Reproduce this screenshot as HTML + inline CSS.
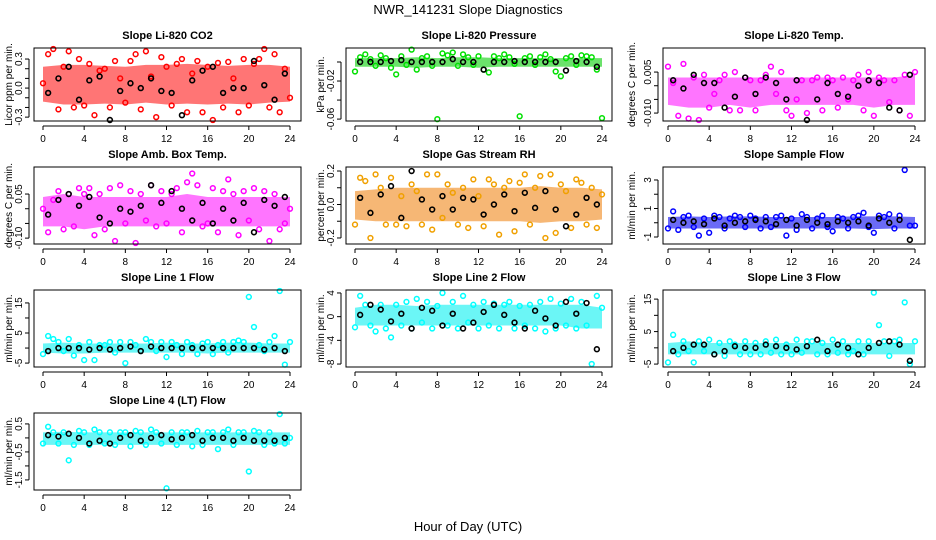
<!DOCTYPE html>
<html><head><meta charset="utf-8"><style>
body{margin:0;background:#fff;}
svg{display:block;font-family:"Liberation Sans",sans-serif;}
</style></head><body>
<svg id="chart" width="936" height="540" viewBox="0 0 936 540">
<rect x="0" y="0" width="936" height="540" fill="#fff"/>
<text x="468" y="14" text-anchor="middle" font-size="13">NWR_141231  Slope Diagnostics</text>
<text x="468" y="531" text-anchor="middle" font-size="13">Hour of Day (UTC)</text>
</svg>
<script>
const hourTicks = [0,4,8,12,16,20,24];
// colored series: values at hours 0..24 step 0.5 ; black series: hours 0.5..23.5 step 1 ; band lo/hi at hours 0..24 step 2
const co2Color = [0.05,0.35,0.42,-0.22,0.22,0.38,-0.2,0.3,-0.18,0.25,-0.28,0.18,0.2,-0.2,0.28,0.1,-0.15,0.28,0.35,-0.22,0.38,0.12,-0.3,0.32,0.22,-0.18,0.25,0.3,-0.25,0.15,0.28,-0.25,0.22,-0.33,0.26,-0.2,0.27,0.1,-0.25,0.3,-0.18,0.25,0.3,0.42,-0.2,0.35,-0.25,0.2,-0.1];
const co2Black = [-0.05,0.1,0.22,-0.12,0.08,0.12,-0.33,-0.03,0.05,0.0,0.1,-0.03,-0.05,-0.28,0.08,0.18,0.22,-0.05,0.0,0.0,0.28,0.03,-0.12,0.15];
const co2Lo = [-0.14,-0.17,-0.17,-0.16,-0.17,-0.15,-0.17,-0.16,-0.17,-0.16,-0.17,-0.15,-0.14];
const co2Hi = [0.22,0.24,0.24,0.23,0.22,0.24,0.24,0.25,0.24,0.23,0.24,0.24,0.22];

const presColor = [-0.01,0.005,0.008,0.003,-0.004,0.007,0.004,-0.006,-0.013,0.006,-0.003,0.013,-0.008,0.004,0.006,-0.004,-0.06,0.009,0.007,0.01,-0.004,0.008,0.005,-0.003,0.006,-0.008,-0.011,0.006,0.004,0.008,0.005,-0.002,-0.057,0.004,0.006,-0.003,0.005,0.008,0.003,-0.01,-0.015,0.004,0.006,-0.003,0.007,0.006,0.005,-0.008,-0.059];
const presBlack = [0,0,0,0.001,0.002,0,0,0,0,0.003,0,0,-0.008,0,0,0.001,0,0,0,0,-0.009,0.001,0,-0.005];
const presLo = [-0.005,-0.005,-0.005,-0.006,-0.005,-0.005,-0.006,-0.005,-0.005,-0.005,-0.005,-0.005,-0.005];
const presHi = [0.004,0.004,0.004,0.005,0.004,0.005,0.005,0.004,0.004,0.004,0.004,0.004,0.004];

const tempColor = [0.007,0.001,-0.011,0.008,-0.012,0.003,-0.014,0.004,-0.008,-0.003,0.002,0.004,-0.009,0.005,-0.009,0.003,0.002,-0.009,0.002,0.004,0.007,-0.003,0.005,-0.009,-0.011,-0.005,0.002,-0.01,0.002,0.003,-0.009,0.003,0.002,-0.008,0.003,-0.005,0.002,0.004,-0.009,0.005,-0.011,0.003,0.002,-0.006,0.002,-0.009,0.004,-0.011,0.005];
const tempBlack = [0.002,-0.001,0.004,0.001,0.001,-0.008,-0.004,0.003,-0.003,0.003,0.001,-0.005,0.002,-0.013,-0.005,0.001,-0.003,-0.004,0.0,0.002,0.001,-0.008,-0.009,0.004];
const tempLo = [-0.007,-0.008,-0.008,-0.007,-0.008,-0.007,-0.007,-0.007,-0.007,-0.007,-0.008,-0.007,-0.007];
const tempHi = [0.003,0.003,0.003,0.003,0.003,0.003,0.003,0.003,0.003,0.003,0.003,0.003,0.004];

const ambColor = [0.0,-0.08,0.03,0.06,-0.07,0.05,-0.06,0.07,0.05,0.07,-0.09,0.05,-0.07,0.07,-0.11,0.08,-0.05,0.06,-0.12,0.05,-0.04,0.08,-0.06,0.06,-0.05,0.05,0.07,-0.08,0.09,0.12,0.08,-0.06,-0.05,0.07,-0.08,0.06,0.1,0.05,-0.09,0.06,-0.04,0.07,-0.07,0.06,-0.11,0.05,-0.07,-0.05,0.0];
const ambBlack = [-0.02,0.03,0.05,0.01,0.04,-0.03,-0.05,0.0,-0.01,0.01,0.08,0.02,0.06,0.0,-0.04,0.02,-0.05,0.0,-0.04,0.02,-0.08,0.03,0.01,0.04];
const ambLo = [-0.06,-0.06,-0.07,-0.06,-0.06,-0.06,-0.06,-0.06,-0.06,-0.06,-0.06,-0.06,-0.06];
const ambHi = [0.04,0.05,0.04,0.04,0.04,0.04,0.04,0.05,0.04,0.04,0.04,0.04,0.04];

const rhColor = [-0.12,0.16,0.14,-0.2,0.18,0.1,-0.12,0.16,-0.12,0.05,-0.13,0.12,0.08,-0.12,0.18,-0.15,0.18,-0.08,0.12,0.07,-0.12,0.1,-0.14,0.15,0.05,-0.13,0.15,0.12,-0.18,0.1,0.14,-0.16,0.13,0.18,-0.12,0.1,0.17,-0.2,0.18,-0.17,0.12,0.08,-0.14,0.15,0.13,-0.12,0.1,-0.14,0.06];
const rhBlack = [0.04,-0.05,0.06,0.11,-0.08,0.2,0.03,-0.03,0.05,-0.03,0.04,0.03,-0.06,0.0,0.06,-0.04,0.07,-0.02,0.08,-0.03,-0.13,-0.06,0.04,0.0];
const rhLo = [-0.09,-0.1,-0.1,-0.1,-0.1,-0.1,-0.1,-0.1,-0.1,-0.11,-0.1,-0.1,-0.09];
const rhHi = [0.08,0.09,0.1,0.1,0.1,0.1,0.1,0.1,0.1,0.11,0.1,0.1,0.09];

const sampColor = [-0.4,0.8,-0.5,0.4,0.5,-0.3,-0.9,0.3,-0.7,0.5,0.4,-0.4,0.3,0.5,0.4,-0.3,0.5,0.3,-0.4,0.4,-0.3,0.4,0.5,-0.9,0.3,-0.5,0.6,0.4,-0.4,0.3,0.5,-0.3,-0.6,0.4,0.3,-0.4,0.4,0.5,0.7,-0.3,-0.7,0.5,0.4,0.6,-0.4,0.5,3.7,-0.2,-0.2];
const sampBlack = [0.2,0.0,0.1,-0.1,0.3,-0.2,0.0,0.1,0.2,0.1,-0.1,0.2,-0.2,0.2,0.0,-0.1,0.1,0.0,0.1,-0.2,0.3,0.0,0.2,-1.2];
const sampLo = [-0.4,-0.4,-0.4,-0.4,-0.4,-0.4,-0.4,-0.4,-0.4,-0.4,-0.45,-0.4,-0.4];
const sampHi = [0.4,0.45,0.4,0.45,0.45,0.4,0.4,0.4,0.4,0.45,0.45,0.45,0.4];

const l1Color = [-2,4,3,2,-1,3,-2.5,1,-4,2,-4,1,1,2,-1.5,2,-5,2,1,-1,3,2,-1,2,-3,2,1,-2,2,1,-2,1.5,2,-2,1,2,-1.5,2,2.5,2,17,7,1,-1,2,4,19,-5.5,2];
const l1Black = [-1,0,0,0,-0.5,0,-0.5,0,0.5,-1,0.5,0,0,0,0,0,0,0,0,0,0,-0.5,0,-1];
const l1Lo = [-1.5,-1.8,-1.8,-1.5,-1.5,-1.5,-1.5,-1.5,-1.8,-1.5,-1.5,-1.5,-1.5];
const l1Hi = [1.5,1.8,1.5,1.5,1.5,1.5,1.8,1.5,1.5,1.8,1.8,1.5,1.5];

const l2Color = [-1.8,3.5,2,-1.5,-2.5,2,-2,-3.5,2,-1.5,2.5,-2,3,-1,2.5,-2,1.8,4,-1.5,2.5,-2,3.5,-1,2,-2,2.5,-1.5,2.2,-2,2,2.5,-2,1.8,-1.5,2,-2,2.5,-2.5,3,-2,2.2,-1.5,3,-2,2.5,-1.5,-8,3.5,1.5];
const l2Black = [0.3,2,1.2,-0.8,0.5,-2,1.5,1,-1.5,0.5,-2,-1,0.8,2,0.3,-1,-2,1,-0.3,-1.5,2.5,0.5,2.3,-5.5];
const l2Lo = [-1.5,-1.5,-1.5,-1.5,-1.5,-1.5,-1.5,-1.5,-1.5,-1.5,-1.5,-2,-2];
const l2Hi = [1.5,2,2,1.8,2,2,2,2,2,2,2,2,1.5];

const l3Color = [-4.5,4,-2,2,-1,-4.5,2,-1,2.5,-2,1.5,-2.5,2,1,-2,2,-2,1.5,-2,2,-1.5,2.5,-2,1,-2,2.5,-1.5,2,2,-2,1.5,-2,2.5,-1.5,2,-2,-1,2,-2,2,17,7,2,-2.5,2,2.5,14,-5,2];
const l3Black = [-1,0,1,1,-2,-1,0.5,0,0,1,0.5,0,-0.5,0.5,2.5,-1,1,0,-2,0,1.5,2,1,-4];
const l3Lo = [-2,-2,-2,-2,-2,-2,-2,-2,-2,-2,-2,-2,-2];
const l3Hi = [1.5,2,1.5,1.5,1.5,1.5,1.5,1.5,1.5,1.5,1.5,1.5,1.5];

const l4Color = [-0.2,0.4,0.2,-0.2,0.2,-0.8,-0.25,0.25,0.2,-0.25,0.3,0.2,-0.2,0.2,-0.25,0.2,0.2,-0.3,0.25,0.2,-0.25,0.3,0.2,-0.2,-1.8,0.2,-0.25,0.2,0.2,-0.3,0.25,-0.25,0.2,0.2,-0.4,0.2,0.3,-0.25,0.2,0.2,-1.2,0.25,0.2,-0.25,0.2,-0.2,0.85,-0.2,0.0];
const l4Black = [0.1,0.05,0.15,0,-0.2,-0.1,-0.2,0,0.1,-0.1,0,0.1,-0.05,0,0.1,-0.1,0,0,-0.1,0,-0.1,-0.1,-0.1,0];
const l4Lo = [-0.25,-0.25,-0.25,-0.25,-0.25,-0.25,-0.25,-0.25,-0.25,-0.25,-0.25,-0.25,-0.25];
const l4Hi = [0.2,0.22,0.2,0.2,0.2,0.2,0.2,0.2,0.2,0.2,0.2,0.2,0.2];

const co2Ticks=[-0.3,-0.2,-0.1,0,0.1,0.2,0.3], co2Labels=["-0.3","","","0.0","","","0.3"];
const presTicks=[-0.06,-0.04,-0.02,0], presLabels=["-0.06","","-0.02",""];
const tempTicks=[-0.01,-0.005,0,0.005], tempLabels=["-0.010","","","0.005"];
const ambTicks=[-0.1,-0.05,0,0.05], ambLabels=["-0.10","","","0.05"];
const rhTicks=[-0.2,-0.1,0,0.1,0.2], rhLabels=["-0.2","","0.0","","0.2"];
const sampTicks=[-1,0,1,2,3], sampLabels=["-1","","1","","3"];
const l1Ticks=[-5,0,5,10,15], l1Labels=["-5","","5","","15"];
const l2Ticks=[-8,-4,0,4], l2Labels=["-8","-4","0","4"];
const l3Ticks=[-5,0,5,10,15], l3Labels=["-5","","5","","15"];
const l4Ticks=[-1.5,-1,-0.5,0,0.5], l4Labels=["-1.5","","-0.5","","0.5"];

const NS="http://www.w3.org/2000/svg";
const svg=document.getElementById('chart');
const cols=[{bx0:34,bx1:301,h0:43,h24:290,ylab:12},{bx0:346,bx1:612,h0:355,h24:602,ylab:324},{bx0:663,bx1:925,h0:668,h24:915,ylab:635}];
const rows=[{by0:48,by1:121},{by0:167,by1:244},{by0:290,by1:367},{by0:413,by1:490}];
const panels=[
 {name:"co2",title:"Slope Li-820 CO2",ylab:"Licor ppm per min.",c:0,r:0,dom:[-0.34,0.414],col:"#ff0000",fill:"#ff2020",cv:co2Color,bv:co2Black,lo:co2Lo,hi:co2Hi,tk:co2Ticks,tl:co2Labels},
 {name:"pressure",title:"Slope Li-820 Pressure",ylab:"kPa per min.",c:1,r:0,dom:[-0.062,0.0147],col:"#00e000",fill:"#10d010",cv:presColor,bv:presBlack,lo:presLo,hi:presHi,tk:presTicks,tl:presLabels},
 {name:"temp",title:"Slope Li-820 Temp.",ylab:"degrees C per min.",c:2,r:0,dom:[-0.0129,0.0138],col:"#ff00ff",fill:"#ff20ff",cv:tempColor,bv:tempBlack,lo:tempLo,hi:tempHi,tk:tempTicks,tl:tempLabels},
 {name:"amb-box-temp",title:"Slope Amb. Box Temp.",ylab:"degrees C per min.",c:0,r:1,dom:[-0.12,0.142],col:"#ff00ff",fill:"#ff20ff",cv:ambColor,bv:ambBlack,lo:ambLo,hi:ambHi,tk:ambTicks,tl:ambLabels},
 {name:"gas-stream-rh",title:"Slope Gas Stream RH",ylab:"percent per min.",c:1,r:1,dom:[-0.236,0.224],col:"#f0a000",fill:"#f08a20",cv:rhColor,bv:rhBlack,lo:rhLo,hi:rhHi,tk:rhTicks,tl:rhLabels},
 {name:"sample-flow",title:"Slope Sample Flow",ylab:"ml/min per min.",c:2,r:1,dom:[-1.49,3.91],col:"#0000ff",fill:"#1010f0",cv:sampColor,bv:sampBlack,lo:sampLo,hi:sampHi,tk:sampTicks,tl:sampLabels},
 {name:"line1-flow",title:"Slope Line 1 Flow",ylab:"ml/min per min.",c:0,r:2,dom:[-6.3,19.3],col:"#00ffff",fill:"#10f0f0",cv:l1Color,bv:l1Black,lo:l1Lo,hi:l1Hi,tk:l1Ticks,tl:l1Labels},
 {name:"line2-flow",title:"Slope Line 2 Flow",ylab:"ml/min per min.",c:1,r:2,dom:[-8.5,4.5],col:"#00ffff",fill:"#10f0f0",cv:l2Color,bv:l2Black,lo:l2Lo,hi:l2Hi,tk:l2Ticks,tl:l2Labels},
 {name:"line3-flow",title:"Slope Line 3 Flow",ylab:"ml/min per min.",c:2,r:2,dom:[-5.9,17.8],col:"#00ffff",fill:"#10f0f0",cv:l3Color,bv:l3Black,lo:l3Lo,hi:l3Hi,tk:l3Ticks,tl:l3Labels},
 {name:"line4-flow",title:"Slope Line 4 (LT) Flow",ylab:"ml/min per min.",c:0,r:3,dom:[-1.86,0.89],col:"#00ffff",fill:"#10f0f0",cv:l4Color,bv:l4Black,lo:l4Lo,hi:l4Hi,tk:l4Ticks,tl:l4Labels}
];
function mk(tag,attrs,parent){const e=document.createElementNS(NS,tag);for(const k in attrs)e.setAttribute(k,attrs[k]);(parent||svg).appendChild(e);return e;}
panels.forEach(p=>{
 const C=cols[p.c],R=rows[p.r];
 const g=mk('g',{});
 
 
 const xs=h=>C.h0+(C.h24-C.h0)*h/24;
 const ys=v=>R.by1-(v-p.dom[0])/(p.dom[1]-p.dom[0])*(R.by1-R.by0);
 const clip=v=>Math.max(R.by0+1,Math.min(R.by1-1,ys(v)));
 let pts=p.hi.map((v,i)=>xs(i*2)+','+ys(v));
 pts=pts.concat(p.lo.map((v,i)=>xs(i*2)+','+ys(v)).reverse());
 const band=mk('polygon',{points:pts.join(' '),fill:p.fill,'fill-opacity':0.62},g);
 
 
 p.cv.forEach((v,i)=>{
  const c=mk('circle',{cx:xs(i*0.5),cy:clip(v),r:2.4,fill:'none',stroke:p.col,'stroke-width':1.5},g);
  
  
 });
 p.bv.forEach((v,i)=>{
  const c=mk('circle',{cx:xs(i+0.5),cy:clip(v),r:2.4,fill:'none',stroke:'#000','stroke-width':1.6},g);
  
  
 });
 const box=mk('rect',{x:C.bx0,y:R.by0,width:C.bx1-C.bx0,height:R.by1-R.by0,fill:'none',stroke:'#000','stroke-width':1},g);
 
 
 const t=mk('text',{x:(C.bx0+C.bx1)/2,y:R.by0-9,'text-anchor':'middle','font-size':11,'font-weight':'bold'},g);
 t.textContent=p.title;
 
 
 const ay=R.by1+5;
 mk('line',{x1:xs(0),x2:xs(24),y1:ay,y2:ay,stroke:'#000'},g);
 hourTicks.forEach(h=>{
  mk('line',{x1:xs(h),x2:xs(h),y1:ay,y2:ay+4,stroke:'#000'},g);
  const tx=mk('text',{x:xs(h),y:ay+16,'text-anchor':'middle','font-size':10},g);
  tx.textContent=h;
  
  
 });
 const ax=C.bx0-5;
 mk('line',{x1:ax,x2:ax,y1:ys(p.tk[0]),y2:ys(p.tk[p.tk.length-1]),stroke:'#000'},g);
 p.tk.forEach((v,i)=>{
  mk('line',{x1:ax-4,x2:ax,y1:ys(v),y2:ys(v),stroke:'#000'},g);
  if(p.tl[i]){
   const tx=mk('text',{x:0,y:0,'text-anchor':'middle','font-size':10,transform:`translate(${ax-7},${ys(v)}) rotate(-90)`},g);
   tx.textContent=p.tl[i];
   
   
  }
 });
 const yl=mk('text',{x:0,y:0,'text-anchor':'middle','font-size':10,transform:`translate(${C.ylab},${(R.by0+R.by1)/2}) rotate(-90)`},g);
 yl.textContent=p.ylab;
 
 
});
</script>
</body></html>
